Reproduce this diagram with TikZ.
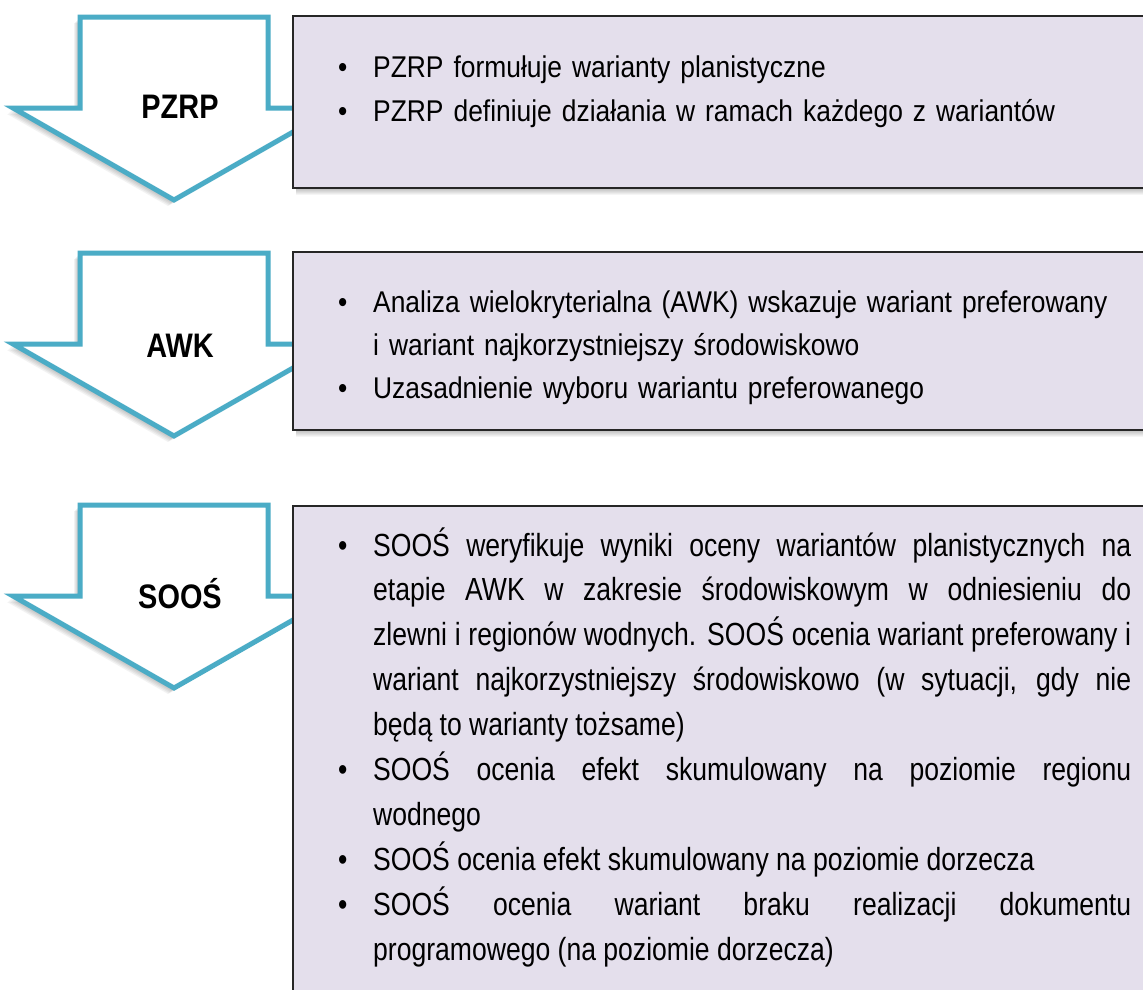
\documentclass[tikz,border=0pt]{standalone}
\usepackage{fontspec}
\setmainfont{Liberation Sans}
\newfontfamily\boxfont[FakeStretch=0.88]{Liberation Sans}
\newfontfamily\narrowfont[FakeStretch=0.83]{Liberation Sans}
\newfontfamily\labelfont[FakeStretch=0.85]{Liberation Sans}
\definecolor{aqua}{HTML}{4BACC6}
\definecolor{lav}{HTML}{E4DFEC}
\definecolor{edgecol}{HTML}{262626}
\hyphenpenalty=10000
\exhyphenpenalty=10000
\newcommand\bitem[1]{\noindent\hangindent=35pt\hangafter=1\makebox[35pt][l]{\textbullet}#1\par}
\newcommand\arrowpath{(80,17) -- (268,17) -- (268,108) -- (335,108) -- (174,200) -- (13,108) -- (80,108) -- cycle}
\tikzset{
  downarrow/.style={draw=aqua, fill=white, line width=5pt, line join=miter},
  infobox/.style={draw=edgecol, fill=lav, line width=2.5pt},
  lbl/.style={anchor=base, inner sep=0pt, font=\labelfont\bfseries\fontsize{34}{34}\selectfont},
  txt/.style={anchor=base west, inner sep=0pt, text width=850pt, align=left, font=\boxfont\fontsize{30}{44}\selectfont},
  txtb/.style={txt, font=\boxfont\fontsize{30}{43}\selectfont},
  txtn/.style={anchor=base west, inner sep=0pt, text width=793pt, align=justify, font=\narrowfont\fontsize{32}{44.9}\selectfont}
}
\begin{document}
\begin{tikzpicture}[x=1pt,y=-1pt]
\useasboundingbox (0,0) rectangle (1143,989);
\clip (0,0) rectangle (1143,989);
\fill[white] (0,0) rectangle (1143,989);
% arrows
\foreach \dy in {0,236,488}{
  \begin{scope}[shift={(0,\dy)}]
    \foreach \s in {1,...,6}{
      \fill[black, opacity=0.05, shift={(-\s,\s)}] \arrowpath;
    }
    \draw[downarrow] \arrowpath;
  \end{scope}
}
% box shadows
\foreach \s in {1,...,7}{
  \fill[black, opacity=0.04] (296,{16+\s}) rectangle (1160,{188+\s});
  \fill[black, opacity=0.04] (296,{252+\s}) rectangle (1160,{430+\s});
  \fill[black, opacity=0.04] (296,{506+\s}) rectangle (1160,{1010+\s});
}
% boxes
\draw[infobox] (293,16) rectangle (1160,188);
\draw[infobox] (293,252) rectangle (1160,430);
\draw[infobox] (293,506) rectangle (1160,1010);
% labels
\node[lbl] (l1) at (180,118) {PZRP};
\node[lbl] (l2) at (180,357) {AWK};
\node[lbl] (l3) at (180,608) {SOOŚ};
% texts
\node[txt] (t1) at (338,77) {%
\bitem{PZRP formułuje warianty planistyczne}%
\bitem{PZRP definiuje działania w ramach każdego z wariantów}};
\node[txtb] (t2) at (338,312) {%
\bitem{Analiza wielokryterialna (AWK) wskazuje wariant preferowany\newline i wariant najkorzystniejszy środowiskowo}%
\bitem{Uzasadnienie wyboru wariantu preferowanego}};
\node[txtn] (t3) at (338,556) {\tolerance=10000\emergencystretch=0pt%
\bitem{SOOŚ weryfikuje wyniki oceny wariantów planistycznych na\linebreak etapie AWK w zakresie środowiskowym w odniesieniu do\linebreak zlewni i regionów wodnych. SOOŚ ocenia wariant preferowany i\linebreak wariant najkorzystniejszy środowiskowo (w sytuacji, gdy nie\linebreak będą to warianty tożsame)}%
\bitem{SOOŚ ocenia efekt skumulowany na poziomie regionu\linebreak wodnego}%
\bitem{SOOŚ ocenia efekt skumulowany na poziomie dorzecza}%
\bitem{SOOŚ ocenia wariant braku realizacji dokumentu\linebreak programowego (na poziomie dorzecza)}};
\end{tikzpicture}
\end{document}
